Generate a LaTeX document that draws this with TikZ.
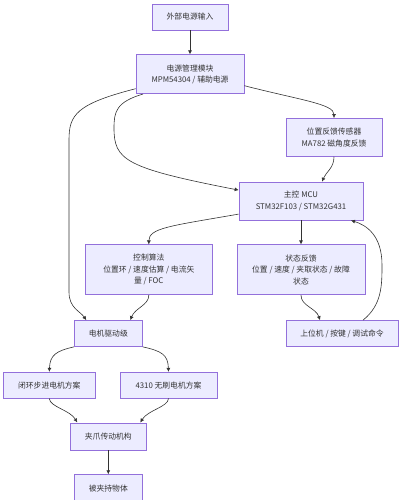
\documentclass[tikz,border=0pt]{standalone}
\usepackage{fontspec}
\setmainfont{Noto Sans CJK SC}
\usepackage{tikz}
\usetikzlibrary{arrows.meta}
\definecolor{boxfill}{RGB}{236, 236, 255}
\definecolor{boxline}{RGB}{147, 112, 219}
\definecolor{edgegray}{RGB}{51, 51, 51}
\usetikzlibrary{positioning}

\begin{document}
\begin{tikzpicture}
    [x=1pt, y=-1pt,
    block/.style={rectangle, draw=boxline, fill=boxfill, line width=.7pt, text=edgegray, align=center, inner sep=2pt, font=\fontsize{7.8}{11.5}\selectfont},
    link/.style={draw=edgegray, line width=.6pt}]
    \useasboundingbox (0,0) rectangle (401,500);
    \node (input) [block, minimum width=76pt, minimum height=26pt] at (190,17) {外部电源输入};

    \node (power) [block, minimum width=108pt, minimum height=39pt, below=24pt of input] {电源管理模块\\MPM54304 / 辅助电源};
    \draw[link, -{Latex[width=4pt,length=4pt]}] (input) -- (power);

    \node (sensor) [block, minimum width=96pt, minimum height=38pt, below=24pt of power, xshift=144pt] {位置反馈传感器\\MA782 磁角度反馈};
    \draw[link, -{Latex[width=4pt,length=4pt]}] ([yshift=-11.5pt]power.east) .. controls (300,100) and (334,104) .. (sensor.north);

    \node (mcu) [block, minimum width=124pt, minimum height=38pt, below=25pt of sensor, xshift=-33pt] {主控 MCU\\STM32F103 / STM32G431};
    \draw[link, -{Latex[width=4pt,length=4pt]}] (sensor.south) .. controls (334,168) and (326,172) .. ([xshift=21pt]mcu.north);
    \draw[link, -{Latex[width=4pt,length=4pt]}] ([xshift=-47pt]power.south) .. controls (116,102) and (114,112) .. (114,128) .. controls (114,160) and (125,168) .. ([yshift=11pt]mcu.west);

    \node (state) [block, minimum width=128pt, minimum height=50pt, below=24pt of mcu] {状态反馈\\位置 / 速度 / 夹取状态 / 故障\\状态};
    \node (algo) [block, minimum width=127pt, minimum height=50pt, left=24pt of state] {控制算法\\位置环 / 速度估算 / 电流矢\\量 / FOC};
    \draw[link, -{Latex[width=4pt,length=4pt]}] (mcu) -- (state);
    \draw[link, -{Latex[width=4pt,length=4pt]}] ([yshift=-13pt]mcu.west) .. controls (170,226) and (149,228) .. (algo.north);

    \node (host) [block, minimum width=112pt, minimum height=26pt, below=25pt of state, xshift=41pt] {上位机 / 按键 / 调试命令};
    \draw[link, -{Latex[width=4pt,length=4pt]}] (state.south) .. controls (301,306) and (316,308) .. ([xshift=-22pt]host.north);
    \draw[link, -{Latex[width=4pt,length=4pt]}] ([xshift=21pt]host.north) .. controls (382,305) and (382,285) .. (382,265) .. controls (382,235) and (366,225) .. ([xshift=50pt]mcu.south);

    \node (driver) [block, minimum width=68pt, minimum height=26pt, below=25pt of algo, xshift=-40.5pt] {电机驱动级};
    \draw[link, -{Latex[width=4pt,length=4pt]}] (algo.south) .. controls (149,305) and (135,308) .. ([xshift=22pt]driver.north);
    \draw[link, -{Latex[width=4pt,length=4pt]}] ([yshift=-14.5pt]power.west) .. controls (76,104) and (69,115) .. (69,140) -- (69,292) .. controls (69,308) and (80,311) .. ([xshift=-22pt]driver.north);

    \node (stepper) [block, minimum width=92pt, minimum height=26pt, below=25pt of driver, xshift=-59pt] {闭环步进电机方案};
    \node (bldc) [block, minimum width=97pt, minimum height=26pt, right=24pt of stepper] {4310 无刷电机方案};
    \draw[link, -{Latex[width=4pt,length=4pt]}] (driver.south west) .. controls (56,351) and (50,355) .. (stepper.north);
    \draw[link, -{Latex[width=4pt,length=4pt]}] (driver.south east) .. controls (162,351) and (168,355) .. (bldc.north);

    \node (gripper) [block, minimum width=76pt, minimum height=27pt, below=24pt of stepper, xshift=59pt] {夹爪传动机构};
    \draw[link, -{Latex[width=4pt,length=4pt]}] (stepper.south) .. controls (50,407) and (70,410) .. ([xshift=-31pt]gripper.north);
    \draw[link, -{Latex[width=4pt,length=4pt]}] (bldc.south) .. controls (168,407) and (148,410) .. ([xshift=32pt]gripper.north);

    \node (object) [block, minimum width=68pt, minimum height=27pt, below=24pt of gripper] {被夹持物体};
    \draw[link, -{Latex[width=4pt,length=4pt]}] (gripper) -- (object);

  \end{tikzpicture}
\end{document}
